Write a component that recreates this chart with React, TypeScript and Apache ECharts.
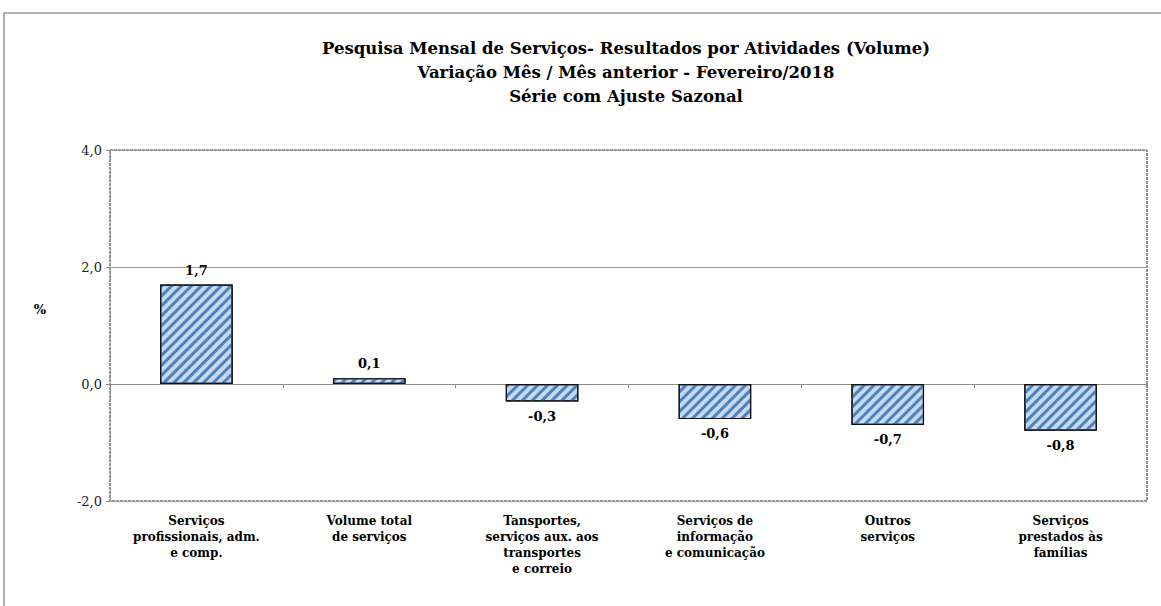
import React, { useEffect, useRef } from "react";
import * as echarts from "echarts";

const categories = [
  "Serviços\nprofissionais, adm.\ne comp.",
  "Volume total\nde serviços",
  "Tansportes,\nserviços aux. aos\ntransportes\ne correio",
  "Serviços de\ninformação\ne comunicação",
  "Outros\nserviços",
  "Serviços\nprestados às\nfamílias",
];
const values = [1.7, 0.1, -0.3, -0.6, -0.7, -0.8];
const titleText =
  "Pesquisa Mensal de Serviços- Resultados por Atividades (Volume)\nVariação Mês / Mês anterior - Fevereiro/2018\nSérie com Ajuste Sazonal";
const yMin = -2;
const yMax = 4;
const yInterval = 2;

const fmt = (v: number) => v.toFixed(1).replace(".", ",");
const SERIF = "'DejaVu Serif', 'Liberation Serif', serif";

export default function App() {
  const ref = useRef<HTMLDivElement>(null);
  useEffect(() => {
    if (!ref.current) return;
    const chart = echarts.init(ref.current, undefined, { renderer: "svg" });
    chart.setOption({
      animation: false,
      backgroundColor: "#fff",
      title: {
        text: titleText,
        left: 621,
        textAlign: "center",
        top: 31,
        textStyle: {
          fontFamily: SERIF,
          fontWeight: "bold",
          fontSize: 16.5,
          lineHeight: 24,
          color: "#000",
        },
      },
      graphic: [
        {
          type: "rect",
          shape: { x: 4, y: 13, width: 1200, height: 700 },
          style: { fill: "none", stroke: "#9a9a9a", lineWidth: 1.5 },
          silent: true,
        },
        {
          type: "text",
          x: 40,
          y: 309,
          style: {
            text: "%",
            font: `bold 13px ${SERIF}`,
            fill: "#000",
            align: "center",
            verticalAlign: "middle",
          },
        },
      ],
      grid: {
        left: 110,
        right: 14,
        top: 150,
        bottom: 105,
        show: true,
        borderColor: "#222",
        borderWidth: 1,
        borderType: [3, 1],
        backgroundColor: "transparent",
      },
      xAxis: [
        {
          type: "category",
          data: categories,
          position: "bottom",
          axisLine: { show: false, onZero: false },
          axisTick: { show: false },
          axisLabel: {
            fontFamily: SERIF,
            fontWeight: "bold",
            fontSize: 12,
            lineHeight: 16,
            color: "#000",
            margin: 12,
            interval: 0,
          },
        },
        {
          type: "category",
          data: categories,
          position: "bottom",
          axisLine: { show: true, onZero: true, lineStyle: { color: "#8c8c8c", width: 1 } },
          axisTick: { show: true, length: 4, lineStyle: { color: "#8c8c8c" } },
          axisLabel: { show: false },
        },
      ],
      yAxis: {
        type: "value",
        min: yMin,
        max: yMax,
        interval: yInterval,
        axisLine: { show: true, lineStyle: { color: "#9a9a9a", type: [3, 2] } },
        axisTick: { show: true, length: 4, lineStyle: { color: "#8c8c8c" } },
        splitLine: { show: true, lineStyle: { color: "#9a9a9a", width: 1 } },
        axisLabel: {
          fontFamily: SERIF,
          fontSize: 13,
          color: "#222",
          margin: 8,
          formatter: (v: number) => fmt(v),
        },
      },
      series: [
        {
          type: "bar",
          xAxisIndex: 0,
          data: values,
          barWidth: "42%",
          itemStyle: {
            color: "#c5d9f1",
            borderColor: "#111",
            borderWidth: 1.2,
            decal: {
              symbol: "rect",
              symbolSize: 1,
              color: "#4f81bd",
              dashArrayX: [1, 0],
              dashArrayY: [3, 4],
              rotation: -Math.PI / 4,
            },
          },
          label: {
            show: true,
            position: "outside",
            distance: 8,
            fontFamily: SERIF,
            fontWeight: "bold",
            fontSize: 13,
            color: "#000",
            formatter: (p: any) => fmt(p.value),
          },
        },
      ],
    });
    return () => chart.dispose();
  }, []);
  return (
    <div
      ref={ref}
      style={{ position: "absolute", left: 0, top: 0, width: 1161, height: 606 }}
    />
  );
}
